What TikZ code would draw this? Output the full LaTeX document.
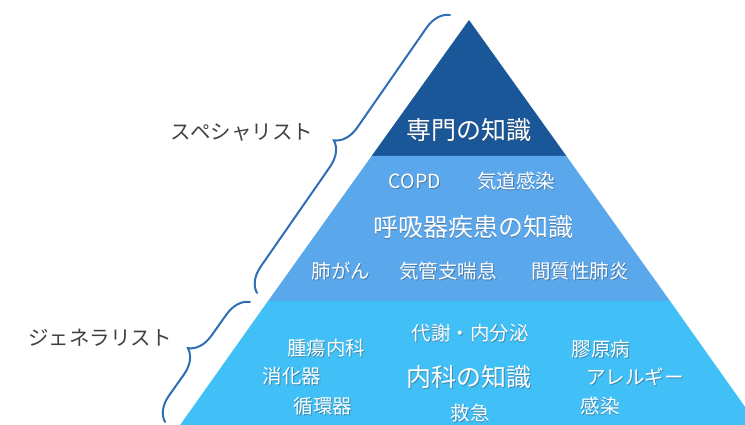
\documentclass[tikz,border=0pt]{standalone}
\usepackage{fontspec}
\newfontfamily\cjk{Noto Sans CJK JP}
\usetikzlibrary{decorations.pathreplacing}
\definecolor{tierA}{HTML}{1A5799}
\definecolor{tierB}{HTML}{5AA7EC}
\definecolor{tierC}{HTML}{40C0F6}
\definecolor{bracec}{HTML}{2E6EB4}
\definecolor{labc}{HTML}{404040}
\definecolor{shadc}{HTML}{3A4A5A}
\tikzset{
  sidelabel/.style={text=labc, inner sep=0pt, font=\cjk\fontsize{20.5}{22}\selectfont},
  brc/.style={draw=bracec, line width=2pt, line cap=round, decorate,
              decoration={brace, amplitude=24pt}},
  pyrmain/.style={text=white, inner sep=0pt},
  pyrshadow/.style={text=shadc, opacity=0.45, inner sep=0pt, xshift=0.9pt, yshift=-0.9pt},
  smallfont/.style={font=\cjk\fontsize{19.5}{21}\selectfont},
  bigfont/.style={font=\cjk\fontsize{25}{27}\selectfont},
}
% #1 name, #2 position, #3 size style, #4 text
\newcommand\pyrtext[4]{%
  \node[pyrshadow, #3] at (#2) {#4};
  \node[pyrmain, #3] (#1) at (#2) {#4};}
\begin{document}
\begin{tikzpicture}[x=1pt,y=-1pt]
\useasboundingbox (0,0) rectangle (745,425);
\begin{scope}
  \clip (0,0) rectangle (745,425);
  \fill[tierA] (469,20) -- (566.4,156) -- (371.6,156) -- cycle;
  \fill[tierB] (371.6,156) -- (566.4,156) -- (670,301) -- (268,301) -- cycle;
  \fill[tierC] (268,301) -- (670,301) -- (760,428) -- (178,428) -- cycle;
\end{scope}
% braces
\coordinate (b1s) at (257,293);
\coordinate (b1e) at (450,15);
\coordinate (b2s) at (165,422);
\coordinate (b2e) at (250,302);
\draw[brc] (b1s) -- (b1e);
\draw[brc] (b2s) -- (b2e);
% side labels
\node[sidelabel] (spec) at (242,132) {スペシャリスト};
\node[sidelabel] (gen) at (100,338) {ジェネラリスト};
% top tier
\pyrtext{senmon}{469,130}{bigfont}{専門の知識}
% middle tier
\pyrtext{copd}{415,181}{smallfont}{COPD}
\pyrtext{kido}{516,181}{smallfont}{気道感染}
\pyrtext{kokyu}{473,227}{bigfont}{呼吸器疾患の知識}
\pyrtext{haigan}{341,271}{smallfont}{肺がん}
\pyrtext{kikan}{448,271}{smallfont}{気管支喘息}
\pyrtext{kanshitsu}{580,271}{smallfont}{間質性肺炎}
% bottom tier
\pyrtext{taisha}{470,333}{smallfont}{代謝・内分泌}
\pyrtext{shuyo}{326,348}{smallfont}{腫瘍内科}
\pyrtext{kogen}{601,349}{smallfont}{膠原病}
\pyrtext{shoka}{292,376}{smallfont}{消化器}
\pyrtext{naika}{469,377}{bigfont}{内科の知識}
\pyrtext{allergy}{635,377}{smallfont}{アレルギー}
\pyrtext{junkan}{323,406}{smallfont}{循環器}
\pyrtext{kyukyu}{470,413}{smallfont}{救急}
\pyrtext{kansen}{600,406}{smallfont}{感染}
\end{tikzpicture}
\end{document}
